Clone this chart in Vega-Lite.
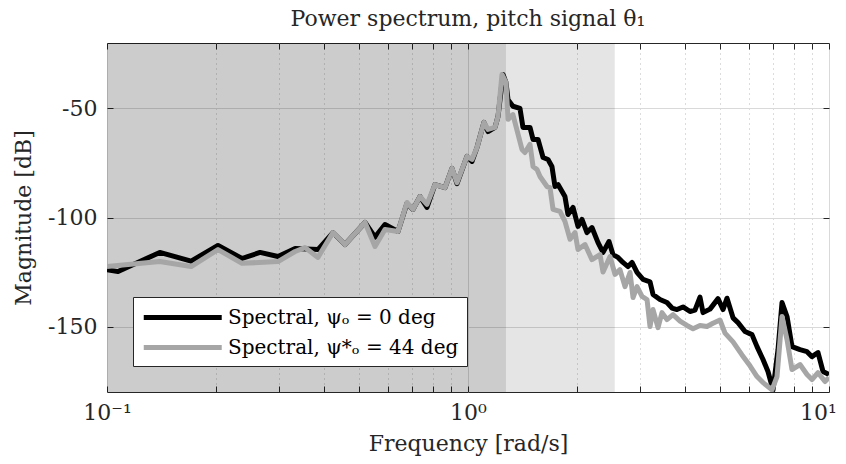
{
  "$schema": "https://vega.github.io/schema/vega-lite/v6.json",
  "autosize": {"type": "none"},
  "padding": {"left": 107, "top": 43, "right": 17, "bottom": 72},
  "width": 722,
  "height": 349,
  "background": "white",
  "config": {
    "font": "DejaVu Serif",
    "view": {"stroke": "#262626", "strokeWidth": 1},
    "axis": {"labelFont": "DejaVu Serif", "titleFont": "DejaVu Serif", "labelFontSize": 22, "titleFontSize": 22, "titleFontWeight": "normal", "labelColor": "#262626", "titleColor": "#262626", "tickColor": "#262626", "domain": false, "labelFlush": false}
  },
  "title": {"text": "Power spectrum, pitch signal θ₁", "font": "DejaVu Serif", "fontSize": 22, "fontWeight": "normal", "color": "#262626", "anchor": "middle", "offset": 12},
  "datasets": {
    "bands": [
      {"band": "dark", "f1": 0.1, "f2": 1.274},
      {"band": "light", "f1": 1.274, "f2": 2.55}
    ],
    "spec": [
      {"series": "Spectral, ψₒ = 0 deg", "freq": 0.1, "mag": -123.9},
      {"series": "Spectral, ψₒ = 0 deg", "freq": 0.1073, "mag": -124.8},
      {"series": "Spectral, ψₒ = 0 deg", "freq": 0.14, "mag": -116},
      {"series": "Spectral, ψₒ = 0 deg", "freq": 0.171, "mag": -120},
      {"series": "Spectral, ψₒ = 0 deg", "freq": 0.203, "mag": -112.8},
      {"series": "Spectral, ψₒ = 0 deg", "freq": 0.2366, "mag": -118.8},
      {"series": "Spectral, ψₒ = 0 deg", "freq": 0.2654, "mag": -116},
      {"series": "Spectral, ψₒ = 0 deg", "freq": 0.2976, "mag": -117.9},
      {"series": "Spectral, ψₒ = 0 deg", "freq": 0.332, "mag": -114.2},
      {"series": "Spectral, ψₒ = 0 deg", "freq": 0.384, "mag": -114.7},
      {"series": "Spectral, ψₒ = 0 deg", "freq": 0.4227, "mag": -107},
      {"series": "Spectral, ψₒ = 0 deg", "freq": 0.4563, "mag": -112.4},
      {"series": "Spectral, ψₒ = 0 deg", "freq": 0.5185, "mag": -102.3},
      {"series": "Spectral, ψₒ = 0 deg", "freq": 0.5526, "mag": -109},
      {"series": "Spectral, ψₒ = 0 deg", "freq": 0.5888, "mag": -103.2},
      {"series": "Spectral, ψₒ = 0 deg", "freq": 0.6399, "mag": -106.4},
      {"series": "Spectral, ψₒ = 0 deg", "freq": 0.6776, "mag": -93.5},
      {"series": "Spectral, ψₒ = 0 deg", "freq": 0.7039, "mag": -96.3},
      {"series": "Spectral, ψₒ = 0 deg", "freq": 0.7362, "mag": -90.4},
      {"series": "Spectral, ψₒ = 0 deg", "freq": 0.7698, "mag": -95.4},
      {"series": "Spectral, ψₒ = 0 deg", "freq": 0.8099, "mag": -84.9},
      {"series": "Spectral, ψₒ = 0 deg", "freq": 0.8637, "mag": -86.3},
      {"series": "Spectral, ψₒ = 0 deg", "freq": 0.903, "mag": -77.5},
      {"series": "Spectral, ψₒ = 0 deg", "freq": 0.9322, "mag": -84.5},
      {"series": "Spectral, ψₒ = 0 deg", "freq": 0.9936, "mag": -72},
      {"series": "Spectral, ψₒ = 0 deg", "freq": 1.026, "mag": -74.3},
      {"series": "Spectral, ψₒ = 0 deg", "freq": 1.059, "mag": -67.9},
      {"series": "Spectral, ψₒ = 0 deg", "freq": 1.107, "mag": -56.4},
      {"series": "Spectral, ψₒ = 0 deg", "freq": 1.136, "mag": -60.6},
      {"series": "Spectral, ψₒ = 0 deg", "freq": 1.188, "mag": -58.7},
      {"series": "Spectral, ψₒ = 0 deg", "freq": 1.211, "mag": -53.7},
      {"series": "Spectral, ψₒ = 0 deg", "freq": 1.25, "mag": -34.4},
      {"series": "Spectral, ψₒ = 0 deg", "freq": 1.274, "mag": -38.1},
      {"series": "Spectral, ψₒ = 0 deg", "freq": 1.291, "mag": -46},
      {"series": "Spectral, ψₒ = 0 deg", "freq": 1.332, "mag": -49},
      {"series": "Spectral, ψₒ = 0 deg", "freq": 1.393, "mag": -50},
      {"series": "Spectral, ψₒ = 0 deg", "freq": 1.42, "mag": -58.7},
      {"series": "Spectral, ψₒ = 0 deg", "freq": 1.485, "mag": -58.7},
      {"series": "Spectral, ψₒ = 0 deg", "freq": 1.514, "mag": -64.2},
      {"series": "Spectral, ψₒ = 0 deg", "freq": 1.563, "mag": -64.2},
      {"series": "Spectral, ψₒ = 0 deg", "freq": 1.614, "mag": -72.5},
      {"series": "Spectral, ψₒ = 0 deg", "freq": 1.666, "mag": -73.4},
      {"series": "Spectral, ψₒ = 0 deg", "freq": 1.708, "mag": -76.6},
      {"series": "Spectral, ψₒ = 0 deg", "freq": 1.742, "mag": -85.8},
      {"series": "Spectral, ψₒ = 0 deg", "freq": 1.776, "mag": -84.9},
      {"series": "Spectral, ψₒ = 0 deg", "freq": 1.856, "mag": -90.4},
      {"series": "Spectral, ψₒ = 0 deg", "freq": 1.892, "mag": -98.6},
      {"series": "Spectral, ψₒ = 0 deg", "freq": 1.954, "mag": -95.4},
      {"series": "Spectral, ψₒ = 0 deg", "freq": 2.017, "mag": -104.1},
      {"series": "Spectral, ψₒ = 0 deg", "freq": 2.069, "mag": -100.9},
      {"series": "Spectral, ψₒ = 0 deg", "freq": 2.136, "mag": -106.9},
      {"series": "Spectral, ψₒ = 0 deg", "freq": 2.205, "mag": -104.6},
      {"series": "Spectral, ψₒ = 0 deg", "freq": 2.292, "mag": -111.5},
      {"series": "Spectral, ψₒ = 0 deg", "freq": 2.366, "mag": -116},
      {"series": "Spectral, ψₒ = 0 deg", "freq": 2.458, "mag": -111},
      {"series": "Spectral, ψₒ = 0 deg", "freq": 2.521, "mag": -117},
      {"series": "Spectral, ψₒ = 0 deg", "freq": 2.604, "mag": -118.3},
      {"series": "Spectral, ψₒ = 0 deg", "freq": 2.687, "mag": -120.6},
      {"series": "Spectral, ψₒ = 0 deg", "freq": 2.775, "mag": -122.5},
      {"series": "Spectral, ψₒ = 0 deg", "freq": 2.847, "mag": -120.6},
      {"series": "Spectral, ψₒ = 0 deg", "freq": 2.939, "mag": -125.2},
      {"series": "Spectral, ψₒ = 0 deg", "freq": 3.054, "mag": -128.4},
      {"series": "Spectral, ψₒ = 0 deg", "freq": 3.193, "mag": -129.5},
      {"series": "Spectral, ψₒ = 0 deg", "freq": 3.255, "mag": -135.3},
      {"series": "Spectral, ψₒ = 0 deg", "freq": 3.402, "mag": -137.6},
      {"series": "Spectral, ψₒ = 0 deg", "freq": 3.558, "mag": -139},
      {"series": "Spectral, ψₒ = 0 deg", "freq": 3.674, "mag": -141.5},
      {"series": "Spectral, ψₒ = 0 deg", "freq": 3.793, "mag": -142.2},
      {"series": "Spectral, ψₒ = 0 deg", "freq": 3.941, "mag": -141},
      {"series": "Spectral, ψₒ = 0 deg", "freq": 4.121, "mag": -143.1},
      {"series": "Spectral, ψₒ = 0 deg", "freq": 4.254, "mag": -142.5},
      {"series": "Spectral, ψₒ = 0 deg", "freq": 4.392, "mag": -136.5},
      {"series": "Spectral, ψₒ = 0 deg", "freq": 4.477, "mag": -143.6},
      {"series": "Spectral, ψₒ = 0 deg", "freq": 4.681, "mag": -142},
      {"series": "Spectral, ψₒ = 0 deg", "freq": 4.927, "mag": -137.2},
      {"series": "Spectral, ψₒ = 0 deg", "freq": 5.086, "mag": -142.2},
      {"series": "Spectral, ψₒ = 0 deg", "freq": 5.218, "mag": -137},
      {"series": "Spectral, ψₒ = 0 deg", "freq": 5.422, "mag": -146},
      {"series": "Spectral, ψₒ = 0 deg", "freq": 5.597, "mag": -148.2},
      {"series": "Spectral, ψₒ = 0 deg", "freq": 5.852, "mag": -152.3},
      {"series": "Spectral, ψₒ = 0 deg", "freq": 6.119, "mag": -153.7},
      {"series": "Spectral, ψₒ = 0 deg", "freq": 6.318, "mag": -159.2},
      {"series": "Spectral, ψₒ = 0 deg", "freq": 6.565, "mag": -165.1},
      {"series": "Spectral, ψₒ = 0 deg", "freq": 6.776, "mag": -170.6},
      {"series": "Spectral, ψₒ = 0 deg", "freq": 6.997, "mag": -179},
      {"series": "Spectral, ψₒ = 0 deg", "freq": 7.224, "mag": -160.6},
      {"series": "Spectral, ψₒ = 0 deg", "freq": 7.411, "mag": -139},
      {"series": "Spectral, ψₒ = 0 deg", "freq": 7.651, "mag": -145.4},
      {"series": "Spectral, ψₒ = 0 deg", "freq": 7.898, "mag": -159.2},
      {"series": "Spectral, ψₒ = 0 deg", "freq": 8.311, "mag": -160.6},
      {"series": "Spectral, ψₒ = 0 deg", "freq": 8.692, "mag": -161.5},
      {"series": "Spectral, ψₒ = 0 deg", "freq": 8.972, "mag": -163.8},
      {"series": "Spectral, ψₒ = 0 deg", "freq": 9.323, "mag": -161.9},
      {"series": "Spectral, ψₒ = 0 deg", "freq": 9.625, "mag": -170.6},
      {"series": "Spectral, ψₒ = 0 deg", "freq": 10, "mag": -172},
      {"series": "Spectral, ψ*ₒ = 44 deg", "freq": 0.1, "mag": -122.5},
      {"series": "Spectral, ψ*ₒ = 44 deg", "freq": 0.14, "mag": -120.2},
      {"series": "Spectral, ψ*ₒ = 44 deg", "freq": 0.171, "mag": -122.5},
      {"series": "Spectral, ψ*ₒ = 44 deg", "freq": 0.203, "mag": -114.7},
      {"series": "Spectral, ψ*ₒ = 44 deg", "freq": 0.2366, "mag": -121},
      {"series": "Spectral, ψ*ₒ = 44 deg", "freq": 0.2976, "mag": -120.2},
      {"series": "Spectral, ψ*ₒ = 44 deg", "freq": 0.332, "mag": -115.6},
      {"series": "Spectral, ψ*ₒ = 44 deg", "freq": 0.3535, "mag": -113.8},
      {"series": "Spectral, ψ*ₒ = 44 deg", "freq": 0.384, "mag": -118.3},
      {"series": "Spectral, ψ*ₒ = 44 deg", "freq": 0.4227, "mag": -106.9},
      {"series": "Spectral, ψ*ₒ = 44 deg", "freq": 0.4563, "mag": -112.4},
      {"series": "Spectral, ψ*ₒ = 44 deg", "freq": 0.5185, "mag": -102.3},
      {"series": "Spectral, ψ*ₒ = 44 deg", "freq": 0.5526, "mag": -113.3},
      {"series": "Spectral, ψ*ₒ = 44 deg", "freq": 0.5888, "mag": -105.5},
      {"series": "Spectral, ψ*ₒ = 44 deg", "freq": 0.6399, "mag": -106.4},
      {"series": "Spectral, ψ*ₒ = 44 deg", "freq": 0.6776, "mag": -93.1},
      {"series": "Spectral, ψ*ₒ = 44 deg", "freq": 0.7039, "mag": -96.3},
      {"series": "Spectral, ψ*ₒ = 44 deg", "freq": 0.7362, "mag": -90.4},
      {"series": "Spectral, ψ*ₒ = 44 deg", "freq": 0.7698, "mag": -94},
      {"series": "Spectral, ψ*ₒ = 44 deg", "freq": 0.8099, "mag": -84.9},
      {"series": "Spectral, ψ*ₒ = 44 deg", "freq": 0.8637, "mag": -86.3},
      {"series": "Spectral, ψ*ₒ = 44 deg", "freq": 0.903, "mag": -77.5},
      {"series": "Spectral, ψ*ₒ = 44 deg", "freq": 0.9322, "mag": -84},
      {"series": "Spectral, ψ*ₒ = 44 deg", "freq": 0.9936, "mag": -72},
      {"series": "Spectral, ψ*ₒ = 44 deg", "freq": 1.026, "mag": -73.4},
      {"series": "Spectral, ψ*ₒ = 44 deg", "freq": 1.059, "mag": -67.9},
      {"series": "Spectral, ψ*ₒ = 44 deg", "freq": 1.107, "mag": -56.4},
      {"series": "Spectral, ψ*ₒ = 44 deg", "freq": 1.136, "mag": -59.6},
      {"series": "Spectral, ψ*ₒ = 44 deg", "freq": 1.188, "mag": -58.7},
      {"series": "Spectral, ψ*ₒ = 44 deg", "freq": 1.211, "mag": -53.7},
      {"series": "Spectral, ψ*ₒ = 44 deg", "freq": 1.242, "mag": -34.4},
      {"series": "Spectral, ψ*ₒ = 44 deg", "freq": 1.274, "mag": -38.1},
      {"series": "Spectral, ψ*ₒ = 44 deg", "freq": 1.291, "mag": -55},
      {"series": "Spectral, ψ*ₒ = 44 deg", "freq": 1.332, "mag": -52.8},
      {"series": "Spectral, ψ*ₒ = 44 deg", "freq": 1.411, "mag": -68.8},
      {"series": "Spectral, ψ*ₒ = 44 deg", "freq": 1.438, "mag": -70.2},
      {"series": "Spectral, ψ*ₒ = 44 deg", "freq": 1.485, "mag": -66.5},
      {"series": "Spectral, ψ*ₒ = 44 deg", "freq": 1.514, "mag": -76.6},
      {"series": "Spectral, ψ*ₒ = 44 deg", "freq": 1.553, "mag": -78},
      {"series": "Spectral, ψ*ₒ = 44 deg", "freq": 1.583, "mag": -81.2},
      {"series": "Spectral, ψ*ₒ = 44 deg", "freq": 1.655, "mag": -85.8},
      {"series": "Spectral, ψ*ₒ = 44 deg", "freq": 1.687, "mag": -86.3},
      {"series": "Spectral, ψ*ₒ = 44 deg", "freq": 1.72, "mag": -96.3},
      {"series": "Spectral, ψ*ₒ = 44 deg", "freq": 1.798, "mag": -97.2},
      {"series": "Spectral, ψ*ₒ = 44 deg", "freq": 1.856, "mag": -101.8},
      {"series": "Spectral, ψ*ₒ = 44 deg", "freq": 1.917, "mag": -110},
      {"series": "Spectral, ψ*ₒ = 44 deg", "freq": 1.979, "mag": -106.9},
      {"series": "Spectral, ψ*ₒ = 44 deg", "freq": 2.017, "mag": -114.7},
      {"series": "Spectral, ψ*ₒ = 44 deg", "freq": 2.109, "mag": -112.4},
      {"series": "Spectral, ψ*ₒ = 44 deg", "freq": 2.205, "mag": -119.3},
      {"series": "Spectral, ψ*ₒ = 44 deg", "freq": 2.321, "mag": -117},
      {"series": "Spectral, ψ*ₒ = 44 deg", "freq": 2.366, "mag": -125},
      {"series": "Spectral, ψ*ₒ = 44 deg", "freq": 2.474, "mag": -117.9},
      {"series": "Spectral, ψ*ₒ = 44 deg", "freq": 2.554, "mag": -126.1},
      {"series": "Spectral, ψ*ₒ = 44 deg", "freq": 2.636, "mag": -123.9},
      {"series": "Spectral, ψ*ₒ = 44 deg", "freq": 2.722, "mag": -131.7},
      {"series": "Spectral, ψ*ₒ = 44 deg", "freq": 2.811, "mag": -125.2},
      {"series": "Spectral, ψ*ₒ = 44 deg", "freq": 2.865, "mag": -136.7},
      {"series": "Spectral, ψ*ₒ = 44 deg", "freq": 2.939, "mag": -131.7},
      {"series": "Spectral, ψ*ₒ = 44 deg", "freq": 3.034, "mag": -136.2},
      {"series": "Spectral, ψ*ₒ = 44 deg", "freq": 3.133, "mag": -137.6},
      {"series": "Spectral, ψ*ₒ = 44 deg", "freq": 3.193, "mag": -150},
      {"series": "Spectral, ψ*ₒ = 44 deg", "freq": 3.255, "mag": -142.2},
      {"series": "Spectral, ψ*ₒ = 44 deg", "freq": 3.36, "mag": -150.5},
      {"series": "Spectral, ψ*ₒ = 44 deg", "freq": 3.446, "mag": -143.6},
      {"series": "Spectral, ψ*ₒ = 44 deg", "freq": 3.558, "mag": -146.8},
      {"series": "Spectral, ψ*ₒ = 44 deg", "freq": 3.697, "mag": -144.5},
      {"series": "Spectral, ψ*ₒ = 44 deg", "freq": 3.867, "mag": -147.5},
      {"series": "Spectral, ψ*ₒ = 44 deg", "freq": 4.043, "mag": -149.5},
      {"series": "Spectral, ψ*ₒ = 44 deg", "freq": 4.201, "mag": -151},
      {"series": "Spectral, ψ*ₒ = 44 deg", "freq": 4.392, "mag": -149.5},
      {"series": "Spectral, ψ*ₒ = 44 deg", "freq": 4.592, "mag": -150},
      {"series": "Spectral, ψ*ₒ = 44 deg", "freq": 4.771, "mag": -148.5},
      {"series": "Spectral, ψ*ₒ = 44 deg", "freq": 4.989, "mag": -147},
      {"series": "Spectral, ψ*ₒ = 44 deg", "freq": 5.152, "mag": -153},
      {"series": "Spectral, ψ*ₒ = 44 deg", "freq": 5.422, "mag": -157},
      {"series": "Spectral, ψ*ₒ = 44 deg", "freq": 5.741, "mag": -163},
      {"series": "Spectral, ψ*ₒ = 44 deg", "freq": 6.042, "mag": -168},
      {"series": "Spectral, ψ*ₒ = 44 deg", "freq": 6.318, "mag": -172.9},
      {"series": "Spectral, ψ*ₒ = 44 deg", "freq": 6.565, "mag": -175.7},
      {"series": "Spectral, ψ*ₒ = 44 deg", "freq": 6.952, "mag": -179},
      {"series": "Spectral, ψ*ₒ = 44 deg", "freq": 7.178, "mag": -172.9},
      {"series": "Spectral, ψ*ₒ = 44 deg", "freq": 7.411, "mag": -145.4},
      {"series": "Spectral, ψ*ₒ = 44 deg", "freq": 7.651, "mag": -156},
      {"series": "Spectral, ψ*ₒ = 44 deg", "freq": 7.898, "mag": -169.7},
      {"series": "Spectral, ψ*ₒ = 44 deg", "freq": 8.311, "mag": -167.4},
      {"series": "Spectral, ψ*ₒ = 44 deg", "freq": 8.692, "mag": -172},
      {"series": "Spectral, ψ*ₒ = 44 deg", "freq": 8.972, "mag": -174.3},
      {"series": "Spectral, ψ*ₒ = 44 deg", "freq": 9.323, "mag": -171.1},
      {"series": "Spectral, ψ*ₒ = 44 deg", "freq": 9.748, "mag": -175.2},
      {"series": "Spectral, ψ*ₒ = 44 deg", "freq": 10, "mag": -173.4}
    ]
  },
  "resolve": {"axis": {"x": "independent", "y": "independent"}},
  "layer": [
    {
      "data": {"name": "bands"},
      "mark": {"type": "rect", "color": "black"},
      "encoding": {
        "x": {"field": "f1", "type": "quantitative", "scale": {"type": "log", "domain": [0.1, 10], "nice": false},
              "axis": {"orient": "top", "values": [0.1,0.2,0.3,0.4,0.5,0.6,0.7,0.8,0.9,1,2,3,4,5,6,7,8,9,10], "labels": false, "grid": false, "tickSize": -6, "title": null}},
        "x2": {"field": "f2"},
        "y": {"datum": -180, "type": "quantitative", "scale": {"domain": [-180, -20], "nice": false, "zero": false}, "axis": {"orient": "right", "values": [-150,-100,-50], "labels": false, "grid": false, "tickSize": -6, "title": null}},
        "y2": {"datum": -20},
        "opacity": {"field": "band", "type": "nominal", "scale": {"domain": ["dark", "light"], "range": [0.2, 0.1]}, "legend": null}
      }
    },
    {
      "data": {"name": "spec"},
      "mark": {"type": "line", "strokeWidth": 5, "clip": true, "strokeJoin": "round"},
      "encoding": {
        "x": {"field": "freq", "type": "quantitative", "scale": {"type": "log", "domain": [0.1, 10], "nice": false},
              "axis": {"orient": "bottom", "values": [0.1,0.2,0.3,0.4,0.5,0.6,0.7,0.8,0.9,1,2,3,4,5,6,7,8,9,10], "tickSize": -6, "labelPadding": 16, "labelOverlap": false, "labelFlush": false,
                       "labelExpr": "datum.value == 0.1 ? '10⁻¹' : datum.value == 1 ? '10⁰' : datum.value == 10 ? '10¹' : ''",
                       "labelOffset": {"condition": {"test": "datum.value == 10", "value": -11}, "value": 0},
                       "grid": true,
                       "gridColor": {"condition": {"test": "datum.value == 0.1 || datum.value == 1 || datum.value == 10", "value": "#d9d9d9"}, "value": "#b8b8b8"},
                       "gridDash": {"condition": {"test": "datum.value == 0.1 || datum.value == 1 || datum.value == 10", "value": []}, "value": [1, 4]},
                       "title": "Frequency [rad/s]", "titlePadding": 10}},
        "y": {"field": "mag", "type": "quantitative", "scale": {"domain": [-180, -20], "nice": false, "zero": false},
              "axis": {"orient": "left", "values": [-150,-100,-50], "tickSize": -6, "labelPadding": 16, "labelExpr": "'' + datum.value", "grid": true, "gridColor": "#d9d9d9", "title": "Magnitude [dB]", "titlePadding": 12}},
        "color": {"field": "series", "type": "nominal",
                  "scale": {"domain": ["Spectral, ψₒ = 0 deg", "Spectral, ψ*ₒ = 44 deg"], "range": ["#000000", "#a6a6a6"]},
                  "legend": {"title": null, "orient": "none", "legendX": 26, "legendY": 254, "symbolType": "M-1,0H7", "symbolSize": 380, "symbolStrokeWidth": 5, "labelOffset": 62,
                             "labelFont": "DejaVu Serif", "labelFontSize": 20, "labelColor": "#000000", "fillColor": "white", "strokeColor": "#262626", "padding": 8, "rowPadding": 7, "labelLimit": 400}}
      }
    }
  ]
}
